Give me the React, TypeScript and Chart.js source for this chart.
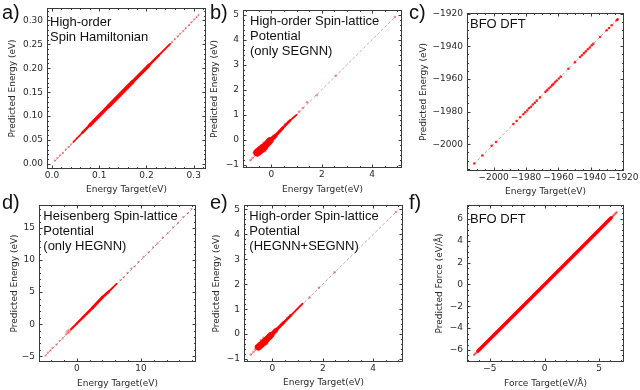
import React, { useEffect, useRef } from "react";
import { Chart, registerables } from "chart.js";

Chart.register(...registerables);

// ---------------- DATA ----------------
// Panel a) High-order Spin Hamiltonian
const aRefTarget = [0.005, 0.31];
const aRefPred = [0.005, 0.31];
const aBandTarget = [0.045, 0.064, 0.08, 0.12, 0.17, 0.205, 0.226, 0.25];
const aBandPred = [0.046, 0.065, 0.081, 0.121, 0.171, 0.206, 0.227, 0.251];
const aPtTarget = [0.006, 0.011, 0.017, 0.023, 0.029, 0.035, 0.04, 0.047, 0.053, 0.058, 0.254, 0.26, 0.266, 0.271, 0.278, 0.283, 0.29, 0.295, 0.301, 0.306, 0.31];
const aPtPred = [0.007, 0.012, 0.018, 0.023, 0.03, 0.035, 0.041, 0.047, 0.054, 0.058, 0.255, 0.261, 0.266, 0.272, 0.278, 0.284, 0.29, 0.296, 0.302, 0.307, 0.311];
const aXTicks = [0, 0.1, 0.2, 0.3];
const aXLabels = ["0.0", "0.1", "0.2", "0.3"];
const aYTicks = [0, 0.05, 0.1, 0.15, 0.2, 0.25, 0.3];
const aYLabels = ["0.00", "0.05", "0.10", "0.15", "0.20", "0.25", "0.30"];

// Panel b) High-order Spin-lattice Potential (only SEGNN)
const bRefTarget = [-0.85, 4.9];
const bRefPred = [-0.85, 4.9];
const bBandTarget = [-0.55, -0.3, -0.05, 0.15, 0.45, 0.75, 1.0];
const bBandPred = [-0.5, -0.3, -0.03, 0.15, 0.47, 0.78, 1.0];
const bPtTarget = [-0.82, -0.74, -0.66, -0.6, -0.48, -0.4, -0.25, -0.15, -0.5, -0.7, -0.3, 0.55, 0.68, 1.1, 1.25, 1.42, 1.8, 2.55, 4.9];
const bPtPred = [-0.8, -0.72, -0.6, -0.44, -0.58, -0.22, -0.45, 0.0, -0.35, -0.52, -0.12, 0.62, 0.72, 1.12, 1.27, 1.5, 1.78, 2.56, 4.9];

// Panel c) BFO DFT energy
const cRefTarget = [-2012, -1923.5];
const cRefPred = [-2012, -1923.5];
const cTarget = [-2011.9, -2006.9, -2001.2, -1998.5, -1987.8, -1985.8, -1983.7, -1981.7, -1980.5, -1979.3, -1978.2, -1977.0, -1975.8, -1974.6, -1973.4, -1971.4, -1968.0, -1967.0, -1966.0, -1964.9, -1963.9, -1963.0, -1962.0, -1961.0, -1959.8, -1958.6, -1953.9, -1949.8, -1946.7, -1945.5, -1944.3, -1943.1, -1941.9, -1940.7, -1939.5, -1938.5, -1934.4, -1930.3, -1928.8, -1927.2, -1924.1, -1923.5];
const cPred = [-2011.8, -2006.9, -2001.0, -1998.6, -1987.6, -1985.8, -1983.5, -1981.6, -1980.4, -1979.3, -1978.0, -1977.0, -1975.7, -1974.6, -1973.3, -1971.3, -1967.9, -1967.0, -1965.9, -1964.9, -1963.8, -1963.0, -1961.9, -1961.0, -1959.7, -1958.6, -1953.8, -1949.7, -1946.6, -1945.5, -1944.2, -1943.1, -1941.8, -1940.7, -1939.4, -1938.4, -1934.3, -1930.2, -1928.8, -1927.1, -1924.0, -1923.5];
const cTicks = [-2000, -1980, -1960, -1940, -1920];
const cLabels = ["\u22122000", "\u22121980", "\u22121960", "\u22121940", "\u22121920"];

// Panel d) Heisenberg Spin-lattice Potential (only HEGNN)
const dRefTarget = [-4.9, 17.9];
const dRefPred = [-4.9, 17.9];
const dBandTarget = [-0.9, 0.0, 1.0, 2.5, 4.0, 5.0, 6.2];
const dBandPred = [-0.8, 0.1, 1.1, 2.6, 4.2, 5.1, 6.3];
const dPtTarget = [-4.85, -4.5, -4.1, -3.8, -3.2, -2.7, -2.2, -1.7, 6.8, 7.3, 7.9, 8.5, 9.0, 9.6, 10.4, 11.2, 11.9, 12.6, 13.4, 14.2, 15.0, 15.8, 16.6, 17.3, 17.9];
const dPtPred = [-4.9, -4.45, -4.1, -3.7, -3.2, -2.6, -2.2, -1.6, 6.9, 7.3, 8.0, 8.7, 9.0, 9.7, 10.5, 11.2, 12.0, 12.6, 13.5, 14.2, 15.1, 15.8, 16.7, 17.3, 18.0];
const dBlobTarget = [-1.5, -1.3, -1.2, -1.4, -1.1];
const dBlobPred = [-1.2, -1.0, -1.25, -1.35, -0.95];
const dXTicks = [0, 10];
const dXLabels = ["0", "10"];
const dYTicks = [-5, 0, 5, 10, 15];
const dYLabels = ["\u22125", "0", "5", "10", "15"];

// Panel e) High-order Spin-lattice Potential (HEGNN+SEGNN)
const eRefTarget = [-0.85, 4.9];
const eRefPred = [-0.85, 4.9];
const eBandTarget = [-0.55, -0.3, -0.05, 0.15, 0.45, 0.75, 1.2];
const eBandPred = [-0.52, -0.3, -0.04, 0.16, 0.46, 0.76, 1.22];
const ePtTarget = [-0.85, -0.75, -0.68, -0.62, -0.45, -0.2, -0.65, -0.35, 0.6, 0.7, 1.48, 1.85, 2.47, 4.9];
const ePtPred = [-0.82, -0.72, -0.62, -0.5, -0.25, -0.38, -0.48, -0.15, 0.65, 0.74, 1.47, 1.86, 2.48, 4.9];

// shared ticks for b / e
const beXTicks = [0, 2, 4];
const beXLabels = ["0", "2", "4"];
const beYTicks = [-1, 0, 1, 2, 3, 4, 5];
const beYLabels = ["\u22121", "0", "1", "2", "3", "4", "5"];

// Panel f) BFO DFT force
const fRefTarget = [-6.45, 6.6];
const fRefPred = [-6.45, 6.6];
const fBandTarget = [-6.1, -3.0, 0.0, 3.0, 6.1];
const fBandPred = [-6.1, -3.0, 0.0, 3.0, 6.1];
const fPtTarget = [-6.45, -6.35, -6.25, -6.15, 6.2, 6.3, 6.4, 6.5, 6.6];
const fPtPred = [-6.45, -6.35, -6.25, -6.15, 6.2, 6.3, 6.4, 6.5, 6.6];
const fXTicks = [-5, 0, 5];
const fXLabels = ["\u22125", "0", "5"];
const fYTicks = [-6, -4, -2, 0, 2, 4, 6];
const fYLabels = ["\u22126", "\u22124", "\u22122", "0", "2", "4", "6"];

// ---------------- STYLE / LAYOUT ----------------
const RED = "rgb(255,0,0)";
const RED_LIGHT = "rgba(255,0,0,0.45)";
const PINK = "rgba(255,80,80,0.35)";
const GRAY = "#b0b0b0";
const AXIS = "#3a3a3a";
const TXT = "#2a2a2a";
const TICK_FONT = { family: "'DejaVu Sans', sans-serif", size: 9 };
const TITLE_FONT = { family: "'DejaVu Sans', sans-serif", size: 9 };
const LH = 10.8;

type Band = { t: number[]; p: number[]; w: number[]; color: string };
type Pts = { t: number[]; p: number[]; r: number; color: string };
type Spec = {
  box: number[];
  frame: number[];
  xRange: number[];
  yRange: number[];
  xTicks: number[];
  xLabels: string[];
  xMinor: number;
  yTicks: number[];
  yLabels: string[];
  yMinor: number;
  xTitle: string;
  yTitle: string;
  yTitleX: number;
  xTitleY: number;
  ref: number[][];
  bands: Band[];
  pts: Pts[];
};

const specs: Spec[] = [
  {
    box: [0, 0, 225, 197], frame: [47, 8, 206, 169],
    xRange: [-0.0106, 0.326], yRange: [-0.0106, 0.326],
    xTicks: aXTicks, xLabels: aXLabels, xMinor: 0.02,
    yTicks: aYTicks, yLabels: aYLabels, yMinor: 0.01,
    xTitle: "Energy Target(eV)", yTitle: "Predicted Energy (eV)",
    yTitleX: 12.5, xTitleY: 189.3,
    ref: [aRefTarget, aRefPred],
    bands: [{ t: aBandTarget, p: aBandPred, w: [1.5, 2.5, 3.5, 4, 3.5, 2.5, 1.8], color: RED }],
    pts: [{ t: aPtTarget, p: aPtPred, r: 1.1, color: RED_LIGHT }],
  },
  {
    box: [205, 0, 215, 197], frame: [243, 10, 402, 168],
    xRange: [-1.12, 5.18], yRange: [-1.12, 5.18],
    xTicks: beXTicks, xLabels: beXLabels, xMinor: 0.5,
    yTicks: beYTicks, yLabels: beYLabels, yMinor: 0.2,
    xTitle: "Energy Target(eV)", yTitle: "Predicted Energy (eV)",
    yTitleX: 215, xTitleY: 189.3,
    ref: [bRefTarget, bRefPred],
    bands: [{ t: bBandTarget, p: bBandPred, w: [8, 7, 4.5, 3, 2.5, 1.8], color: RED }],
    pts: [{ t: bPtTarget, p: bPtPred, r: 1.3, color: RED_LIGHT }],
  },
  {
    box: [415, 0, 225, 197], frame: [467, 13, 624, 171],
    xRange: [-2016.4, -1919.6], yRange: [-2016.4, -1919.6],
    xTicks: cTicks, xLabels: cLabels, xMinor: 5,
    yTicks: cTicks, yLabels: cLabels, yMinor: 5,
    xTitle: "Energy Target(eV)", yTitle: "Predicted Energy (eV)",
    yTitleX: 423.5, xTitleY: 191.7,
    ref: [cRefTarget, cRefPred],
    bands: [],
    pts: [{ t: cTarget, p: cPred, r: 1.3, color: "rgba(255,0,0,0.85)" }],
  },
  {
    box: [0, 195, 215, 195], frame: [39, 205, 196, 362],
    xRange: [-5.9, 18.6], yRange: [-5.9, 18.6],
    xTicks: dXTicks, xLabels: dXLabels, xMinor: 2,
    yTicks: dYTicks, yLabels: dYLabels, yMinor: 1,
    xTitle: "Energy Target(eV)", yTitle: "Predicted Energy (eV)",
    yTitleX: 14.2, xTitleY: 383.3,
    ref: [dRefTarget, dRefPred],
    bands: [{ t: dBandTarget, p: dBandPred, w: [2, 2.2, 2.6, 3, 2.6, 1.8], color: RED }],
    pts: [
      { t: dBlobTarget, p: dBlobPred, r: 1.8, color: PINK },
      { t: dPtTarget, p: dPtPred, r: 1.1, color: RED_LIGHT },
    ],
  },
  {
    box: [205, 195, 215, 195], frame: [244, 205, 403, 362],
    xRange: [-1.12, 5.18], yRange: [-1.12, 5.18],
    xTicks: beXTicks, xLabels: beXLabels, xMinor: 0.5,
    yTicks: beYTicks, yLabels: beYLabels, yMinor: 0.2,
    xTitle: "Energy Target(eV)", yTitle: "Predicted Energy (eV)",
    yTitleX: 216.3, xTitleY: 382.7,
    ref: [eRefTarget, eRefPred],
    bands: [{ t: eBandTarget, p: eBandPred, w: [7, 6.5, 4.5, 3, 2.5, 1.8], color: RED }],
    pts: [{ t: ePtTarget, p: ePtPred, r: 1.3, color: RED_LIGHT }],
  },
  {
    box: [415, 195, 225, 195], frame: [467, 205, 624, 362],
    xRange: [-7.1, 7.27], yRange: [-7.1, 7.27],
    xTicks: fXTicks, xLabels: fXLabels, xMinor: 1,
    yTicks: fYTicks, yLabels: fYLabels, yMinor: 0.5,
    xTitle: "Force Target(eV/\u00c5)", yTitle: "Predicted Force (eV/\u00c5)",
    yTitleX: 440, xTitleY: 383.3,
    ref: [fRefTarget, fRefPred],
    bands: [{ t: fBandTarget, p: fBandPred, w: [3.5, 3.5, 3.5, 3.5], color: RED }],
    pts: [{ t: fPtTarget, p: fPtPred, r: 1.3, color: RED_LIGHT }],
  },
];

type Note = { letter: string; lx: number; ly: number; lines: string[]; tx: number; ty: number };
const notes: Note[] = [
  { letter: "a)", lx: 2, ly: 0, lines: ["High-order", "Spin Hamiltonian"], tx: 50, ty: 14 },
  { letter: "b)", lx: 210, ly: 0, lines: ["High-order Spin-lattice", "Potential", "(only SEGNN)"], tx: 250, ty: 12.5 },
  { letter: "c)", lx: 409, ly: 0, lines: ["BFO DFT"], tx: 470, ty: 15.8 },
  { letter: "d)", lx: 2, ly: 190, lines: ["Heisenberg Spin-lattice", "Potential", "(only HEGNN)"], tx: 43.3, ty: 207.5 },
  { letter: "e)", lx: 210, ly: 190, lines: ["High-order Spin-lattice", "Potential", "(HEGNN+SEGNN)"], tx: 249.3, ty: 207.5 },
  { letter: "f)", lx: 409, ly: 190, lines: ["BFO DFT"], tx: 470, ty: 210.8 },
];

function labelFor(ticks: number[], labels: string[], v: number) {
  const i = ticks.findIndex((t) => Math.abs(t - v) < 1e-9);
  return i >= 0 ? labels[i] : "";
}

function makeFramePlugin(spec: Spec) {
  return {
    id: "frameTicks",
    afterDatasetsDraw(chart: any) {
      const { ctx, chartArea } = chart;
      const { left, top, right, bottom } = chartArea;
      const xs = chart.scales.x;
      const ys = chart.scales.y;
      ctx.save();
      ctx.strokeStyle = AXIS;
      ctx.lineWidth = 1;
      ctx.beginPath();
      const xTick = (v: number, len: number) => {
        const px = Math.round(xs.getPixelForValue(v)) + 0.5;
        if (px < left || px > right) return;
        ctx.moveTo(px, bottom);
        ctx.lineTo(px, bottom - len);
        ctx.moveTo(px, top);
        ctx.lineTo(px, top + len);
      };
      const yTick = (v: number, len: number) => {
        const py = Math.round(ys.getPixelForValue(v)) + 0.5;
        if (py < top || py > bottom) return;
        ctx.moveTo(left, py);
        ctx.lineTo(left + len, py);
        ctx.moveTo(right, py);
        ctx.lineTo(right - len, py);
      };
      const minor = (min: number, max: number, step: number, majors: number[], fn: (v: number, l: number) => void) => {
        const k0 = Math.ceil(min / step - 1e-9);
        const k1 = Math.floor(max / step + 1e-9);
        for (let k = k0; k <= k1; k++) {
          const v = k * step;
          if (majors.some((m) => Math.abs(m - v) < step * 1e-3)) continue;
          fn(v, 2);
        }
      };
      spec.xTicks.forEach((v) => xTick(v, 3.5));
      spec.yTicks.forEach((v) => yTick(v, 3.5));
      minor(spec.xRange[0], spec.xRange[1], spec.xMinor, spec.xTicks, xTick);
      minor(spec.yRange[0], spec.yRange[1], spec.yMinor, spec.yTicks, yTick);
      ctx.stroke();
      ctx.strokeRect(left + 0.5, top + 0.5, right - left - 1, bottom - top - 1);
      ctx.restore();
    },
  };
}

function Panel({ spec }: { spec: Spec }) {
  const ref = useRef<HTMLCanvasElement>(null);
  const [bl, bt, bw, bh] = spec.box;
  useEffect(() => {
    const [L, T, R, B] = spec.frame;
    const W = L - bl;
    const H = bt + bh - B;
    const padTop = T - bt;
    const padRight = bl + bw - R;
    const yTitlePad = spec.yTitleX - bl - LH / 2;
    const xTitlePad = bt + bh - spec.xTitleY - LH / 2;

    const datasets: any[] = [];
    spec.pts.forEach((pt) =>
      datasets.push({
        type: "scatter",
        data: pt.t.map((x, i) => ({ x, y: pt.p[i] })),
        pointRadius: pt.r,
        pointBackgroundColor: pt.color,
        pointBorderWidth: 0,
        showLine: false,
      })
    );
    spec.bands.forEach((b) =>
      datasets.push({
        type: "line",
        data: b.t.map((x, i) => ({ x, y: b.p[i] })),
        borderColor: b.color,
        borderWidth: b.w[0],
        borderCapStyle: "round",
        borderJoinStyle: "round",
        pointRadius: 0,
        fill: false,
        tension: 0,
        segment: { borderWidth: (c: any) => b.w[c.p0DataIndex] },
      })
    );
    datasets.push({
      type: "line",
      data: spec.ref[0].map((x, i) => ({ x, y: spec.ref[1][i] })),
      borderColor: GRAY,
      borderWidth: 1,
      borderDash: [3, 2],
      pointRadius: 0,
      fill: false,
    });

    const chart = new Chart(ref.current as HTMLCanvasElement, {
      type: "scatter",
      data: { datasets },
      options: {
        animation: false,
        responsive: false,
        devicePixelRatio: 1,
        layout: { padding: { left: 0, top: padTop, right: padRight, bottom: 0 } },
        plugins: { legend: { display: false }, tooltip: { enabled: false } },
        scales: {
          x: {
            type: "linear",
            min: spec.xRange[0],
            max: spec.xRange[1],
            grid: { display: false, drawTicks: false },
            border: { display: false },
            afterBuildTicks: (axis: any) => {
              axis.ticks = spec.xTicks.map((v) => ({ value: v }));
            },
            afterFit: (axis: any) => {
              axis.height = H;
              axis.paddingLeft = 0;
              axis.paddingRight = 0;
            },
            ticks: {
              autoSkip: false,
              maxRotation: 0,
              padding: 1,
              color: TXT,
              font: TICK_FONT,
              callback: (v: any) => labelFor(spec.xTicks, spec.xLabels, Number(v)),
            },
            title: {
              display: true,
              text: spec.xTitle,
              color: TXT,
              font: TITLE_FONT,
              padding: { top: 0, bottom: xTitlePad },
            },
          },
          y: {
            type: "linear",
            min: spec.yRange[0],
            max: spec.yRange[1],
            grid: { display: false, drawTicks: false },
            border: { display: false },
            afterBuildTicks: (axis: any) => {
              axis.ticks = spec.yTicks.map((v) => ({ value: v }));
            },
            afterFit: (axis: any) => {
              axis.width = W;
              axis.paddingTop = 0;
              axis.paddingBottom = 0;
            },
            ticks: {
              autoSkip: false,
              padding: 4,
              color: TXT,
              font: TICK_FONT,
              callback: (v: any) => labelFor(spec.yTicks, spec.yLabels, Number(v)),
            },
            title: {
              display: true,
              text: spec.yTitle,
              color: TXT,
              font: TITLE_FONT,
              padding: { top: yTitlePad, bottom: 0 },
            },
          },
        },
      } as any,
      plugins: [makeFramePlugin(spec) as any],
    });
    return () => chart.destroy();
  }, [spec]);
  return (
    <canvas
      ref={ref}
      width={bw}
      height={bh}
      style={{ position: "absolute", left: bl, top: bt, width: bw, height: bh }}
    />
  );
}

export default function App() {
  return (
    <div
      style={{
        position: "absolute",
        left: 0,
        top: 0,
        width: 640,
        height: 390,
        background: "#fff",
        overflow: "hidden",
        fontFamily: "'Liberation Sans', Arial, sans-serif",
      }}
    >
      {specs.map((s, i) => (
        <Panel key={i} spec={s} />
      ))}
      {notes.map((n, i) => (
        <React.Fragment key={"n" + i}>
          <div
            style={{
              position: "absolute",
              left: n.lx,
              top: n.ly,
              fontSize: 20,
              lineHeight: "24px",
              color: "#111",
              whiteSpace: "nowrap",
            }}
          >
            {n.letter}
          </div>
          <div
            style={{
              position: "absolute",
              left: n.tx,
              top: n.ty,
              fontSize: 13,
              lineHeight: "15px",
              color: "#111",
              whiteSpace: "nowrap",
            }}
          >
            {n.lines.map((l, j) => (
              <div key={j}>{l}</div>
            ))}
          </div>
        </React.Fragment>
      ))}
    </div>
  );
}
